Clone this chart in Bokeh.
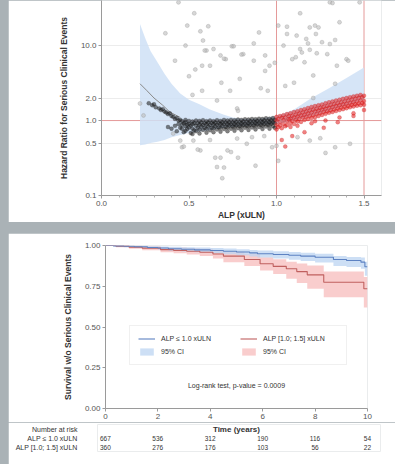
from bokeh.plotting import figure
from bokeh.layouts import column
from bokeh.models import (FixedTicker, PrintfTickFormatter, Span, Legend, LegendItem,
                          Label, FactorRange, Range1d)
from bokeh.core.properties import value
from bokeh.embed import file_html
from bokeh.resources import INLINE

FONT = "Liberation Sans"

# ---------------- Top panel data (hazard ratio vs ALP) ----------------
band_x = [0.22, 0.25, 0.28, 0.32, 0.36, 0.40, 0.45, 0.50, 0.56, 0.62, 0.70, 0.75, 0.80, 0.90,
          1.00, 1.10, 1.20, 1.30, 1.40, 1.50]
band_upper = [19.5, 12.5, 8.5, 6.0, 4.2, 3.1, 2.3, 1.9, 1.65, 1.4, 1.2, 1.1, 1.06, 1.06,
              1.15, 1.4, 2.0, 2.7, 3.7, 5.1]
band_lower = [0.47, 0.48, 0.50, 0.52, 0.55, 0.60, 0.64, 0.68, 0.71, 0.74, 0.80, 0.82, 0.84, 0.87,
              0.90, 1.00, 1.15, 1.35, 1.60, 1.90]
curve_x = [0.22, 0.26, 0.30, 0.35, 0.39, 0.45]
curve_y = [3.1, 2.5, 2.0, 1.6, 1.3, 1.1]

gray_points = [
    (0.44, 37.8), (0.53, 27), (0.365, 14.6), (0.49, 18.5), (0.565, 15.5), (0.61, 18.1), (0.58, 11.7),
    (0.48, 10), (0.60, 8.6), (0.64, 9.0), (0.745, 9.8), (0.755, 9.8), (0.68, 7.4), (0.71, 6.6),
    (0.42, 6.3), (0.575, 5.4), (0.81, 7.7), (0.87, 10.7), (0.90, 15), (0.935, 7.4), (0.87, 6.3),
    (0.96, 5.4), (1.01, 18.5), (1.06, 17.9), (1.135, 27), (1.19, 17.5), (1.22, 18.5), (1.24, 17.5),
    (1.06, 14.3), (1.115, 13.6), (1.17, 12.3), (1.18, 10.7), (1.225, 14.3), (1.26, 11.1),
    (1.305, 10.5), (1.335, 11.9), (1.36, 20.5), (1.04, 10), (1.135, 9.0), (1.145, 8.1), (1.19, 8.8),
    (1.23, 7.9), (1.29, 7.7), (1.09, 6.6), (1.11, 7.0), (1.16, 6.0), (1.40, 6.6), (1.345, 5.4),
    (1.305, 37.8), (1.475, 37.8), (1.32, 37),
    (0.536, 4.8), (0.50, 3.9), (0.52, 2.2), (0.59, 8.6), (0.80, 7.6), (0.70, 6.7), (0.62, 5.4),
    (0.935, 4.6), (0.685, 3.2), (0.735, 2.5), (0.91, 2.7), (0.95, 2.5), (0.79, 3.6), (0.575, 2.5),
    (0.66, 1.85), (0.775, 1.45), (0.78, 1.35), (0.99, 5.9), (1.21, 4.0), (1.05, 2.9), (1.41, 6.3),
    (1.335, 3.1), (1.21, 2.0), (1.10, 3.2),
    (0.565, 0.40), (0.775, 0.575), (0.65, 0.32), (0.70, 0.236), (0.66, 0.24), (0.78, 0.32),
    (0.88, 0.25), (0.83, 0.49), (0.975, 0.44), (1.00, 0.46), (1.01, 0.29), (1.19, 0.54),
    (1.28, 0.37), (1.335, 0.44), (1.42, 0.49), (0.69, 0.17), (0.46, 0.44), (0.22, 1.69),
    (0.24, 1.17), (0.41, 0.67), (0.45, 0.54), (0.47, 0.45), (0.525, 0.54), (0.55, 0.41),
    (0.68, 0.32), (0.72, 0.40), (0.74, 0.38), (0.62, 0.55), (0.86, 0.60), (0.93, 0.62),
    (1.12, 0.60), (1.25, 0.58),
]

black_points = [
    (0.27, 1.70), (0.29, 1.60), (0.30, 1.65), (0.31, 1.50), (0.33, 1.45), (0.34, 1.38), (0.35, 1.42),
    (0.36, 1.32), (0.37, 1.28), (0.38, 1.22), (0.39, 1.25), (0.40, 1.15), (0.41, 1.12), (0.42, 1.05),
    (0.43, 1.08), (0.44, 1.00), (0.45, 1.02), (0.44, 0.90), (0.42, 0.85), (0.40, 0.78), (0.38, 0.82),
    (0.43, 0.72), (0.45, 0.80),
    (0.46, 0.98), (0.46, 0.88), (0.46, 0.78), (0.47, 0.92), (0.47, 0.70),
    (0.48, 1.02), (0.48, 0.95), (0.48, 0.84), (0.48, 0.73), (0.49, 0.88), (0.49, 0.77),
    (0.50, 0.99), (0.50, 0.91), (0.50, 0.81), (0.51, 0.86), (0.51, 0.68),
    (0.52, 0.97), (0.52, 0.89), (0.52, 0.78), (0.52, 0.66), (0.53, 0.93), (0.53, 0.74),
    (0.54, 1.00), (0.54, 0.85), (0.54, 0.72), (0.55, 0.92), (0.55, 0.80),
    (0.56, 0.99), (0.56, 0.88), (0.56, 0.76), (0.56, 0.67), (0.57, 0.94), (0.57, 0.83),
    (0.58, 1.01), (0.58, 0.87), (0.58, 0.75), (0.59, 0.92), (0.59, 0.80),
    (0.60, 0.98), (0.60, 0.89), (0.60, 0.78), (0.60, 0.69), (0.61, 0.94), (0.61, 0.83),
    (0.62, 1.00), (0.62, 0.87), (0.62, 0.74), (0.63, 0.93), (0.63, 0.80),
    (0.64, 0.98), (0.64, 0.89), (0.64, 0.79), (0.64, 0.70), (0.65, 0.94), (0.65, 0.84),
    (0.66, 1.01), (0.66, 0.88), (0.66, 0.76), (0.67, 0.93), (0.67, 0.81),
    (0.68, 0.99), (0.68, 0.90), (0.68, 0.80), (0.68, 0.71), (0.69, 0.95), (0.69, 0.85),
    (0.70, 1.02), (0.70, 0.89), (0.70, 0.77), (0.71, 0.94), (0.71, 0.82),
    (0.72, 1.00), (0.72, 0.90), (0.72, 0.81), (0.72, 0.72), (0.73, 0.95), (0.73, 0.86),
    (0.74, 1.02), (0.74, 0.89), (0.74, 0.78), (0.75, 0.94), (0.75, 0.83),
    (0.76, 1.01), (0.76, 0.91), (0.76, 0.82), (0.76, 0.73), (0.77, 0.96), (0.77, 0.86),
    (0.78, 1.03), (0.78, 0.90), (0.78, 0.79), (0.79, 0.95), (0.79, 0.84),
    (0.80, 1.02), (0.80, 0.92), (0.80, 0.83), (0.80, 0.74), (0.81, 0.97), (0.81, 0.87),
    (0.82, 1.04), (0.82, 0.91), (0.82, 0.80), (0.83, 0.96), (0.83, 0.85),
    (0.84, 1.03), (0.84, 0.93), (0.84, 0.84), (0.84, 0.75), (0.85, 0.98), (0.85, 0.88),
    (0.86, 1.05), (0.86, 0.92), (0.86, 0.81), (0.87, 0.97), (0.87, 0.86),
    (0.88, 1.04), (0.88, 0.94), (0.88, 0.85), (0.88, 0.76), (0.89, 0.99), (0.89, 0.89),
    (0.90, 1.06), (0.90, 0.93), (0.90, 0.82), (0.91, 0.98), (0.91, 0.87),
    (0.92, 1.05), (0.92, 0.95), (0.92, 0.86), (0.92, 0.77), (0.93, 1.00), (0.93, 0.90),
    (0.94, 1.07), (0.94, 0.94), (0.94, 0.83), (0.95, 0.99), (0.95, 0.88),
    (0.96, 1.06), (0.96, 0.96), (0.96, 0.87), (0.96, 0.78), (0.97, 1.01), (0.97, 0.91),
    (0.98, 1.08), (0.98, 0.95), (0.98, 0.84), (0.99, 1.02), (0.99, 0.92), (0.99, 0.80),
]

red_points = [
    (1.00, 1.12), (1.00, 1.00), (1.00, 0.88), (1.00, 0.76), (1.01, 1.05), (1.01, 0.82),
    (1.02, 1.15), (1.02, 0.95), (1.02, 0.86), (1.03, 1.08), (1.03, 0.79),
    (1.04, 1.18), (1.04, 1.02), (1.04, 0.90), (1.05, 1.10), (1.05, 0.84),
    (1.06, 1.22), (1.06, 0.98), (1.06, 0.87), (1.07, 1.14), (1.07, 1.04),
    (1.08, 1.25), (1.08, 1.06), (1.08, 0.93), (1.08, 0.82), (1.09, 1.16), (1.09, 0.99),
    (1.10, 1.30), (1.10, 1.10), (1.10, 0.90), (1.11, 1.20), (1.11, 1.02),
    (1.12, 1.33), (1.12, 1.13), (1.12, 0.97), (1.13, 1.24), (1.13, 1.06),
    (1.14, 1.38), (1.14, 1.17), (1.14, 0.96), (1.15, 1.28), (1.15, 1.09),
    (1.16, 1.42), (1.16, 1.20), (1.16, 1.02), (1.17, 1.32), (1.17, 1.12),
    (1.18, 1.47), (1.18, 1.24), (1.18, 1.05), (1.19, 1.36), (1.19, 1.15),
    (1.20, 1.52), (1.20, 1.28), (1.20, 1.08), (1.21, 1.40), (1.21, 1.18),
    (1.22, 1.56), (1.22, 1.32), (1.22, 1.11), (1.22, 0.98), (1.23, 1.44), (1.23, 1.22),
    (1.24, 1.60), (1.24, 1.36), (1.24, 1.15), (1.25, 1.48), (1.25, 1.26),
    (1.26, 1.64), (1.26, 1.40), (1.26, 1.19), (1.27, 1.52), (1.27, 1.30),
    (1.28, 1.70), (1.28, 1.44), (1.28, 1.23), (1.29, 1.57), (1.29, 1.33),
    (1.30, 1.75), (1.30, 1.48), (1.30, 1.27), (1.31, 1.61), (1.31, 1.37),
    (1.32, 1.80), (1.32, 1.52), (1.32, 1.30), (1.33, 1.66), (1.33, 1.41),
    (1.34, 1.85), (1.34, 1.56), (1.34, 1.34), (1.35, 1.70), (1.35, 1.45),
    (1.36, 1.90), (1.36, 1.60), (1.36, 1.38), (1.37, 1.75), (1.37, 1.49),
    (1.38, 1.95), (1.38, 1.64), (1.38, 1.42), (1.39, 1.80), (1.39, 1.53),
    (1.40, 2.00), (1.40, 1.68), (1.40, 1.46), (1.41, 1.85), (1.41, 1.57),
    (1.42, 2.05), (1.42, 1.72), (1.42, 1.50), (1.43, 1.90), (1.43, 1.61),
    (1.44, 2.10), (1.44, 1.76), (1.44, 1.54), (1.45, 1.95), (1.45, 1.65),
    (1.46, 2.15), (1.46, 1.80), (1.46, 1.58), (1.47, 2.00), (1.47, 1.69),
    (1.48, 2.20), (1.48, 1.85), (1.48, 1.60), (1.49, 2.05), (1.49, 1.72),
    (1.50, 2.15), (1.50, 1.82), (1.50, 1.62),
    (1.03, 0.55), (1.05, 0.45), (1.09, 0.62), (1.16, 0.70), (1.27, 0.80), (1.35, 0.95),
    (1.44, 1.15), (1.12, 0.85), (1.20, 0.92), (1.28, 1.00), (1.36, 1.10), (1.44, 1.25),
    (1.50, 1.38),
]

# ---------------- Bottom panel data (Kaplan-Meier) ----------------
low_t = [0, 0.3, 0.7, 1.1, 1.6, 2.0, 2.4, 2.9, 3.4, 4.0, 4.5, 5.0, 5.5, 5.8, 6.4, 7.0, 7.45,
         8.0, 8.7, 9.2, 9.75, 9.9, 10.0]
low_s = [1.0, 0.998, 0.995, 0.992, 0.988, 0.985, 0.98, 0.977, 0.973, 0.969, 0.965, 0.96, 0.955,
         0.949, 0.945, 0.94, 0.935, 0.928, 0.914, 0.908, 0.898, 0.87, 0.87]
low_up = [1.0, 1.0, 0.999, 0.998, 0.996, 0.994, 0.992, 0.99, 0.987, 0.984, 0.981, 0.977, 0.973,
          0.969, 0.965, 0.96, 0.955, 0.949, 0.935, 0.93, 0.926, 0.9, 0.9]
low_lo = [1.0, 0.994, 0.99, 0.985, 0.98, 0.975, 0.968, 0.963, 0.958, 0.952, 0.946, 0.94, 0.933,
          0.926, 0.92, 0.912, 0.905, 0.895, 0.875, 0.868, 0.857, 0.815, 0.815]

high_t = [0, 0.4, 0.9, 1.4, 2.1, 2.6, 3.1, 3.6, 4.1, 4.5, 5.3, 5.9, 6.4, 6.9, 7.3, 7.7, 8.33,
          9.86, 10.0]
high_s = [1.0, 0.996, 0.99, 0.984, 0.975, 0.97, 0.965, 0.959, 0.948, 0.935, 0.914, 0.888, 0.872,
          0.857, 0.84, 0.82, 0.775, 0.735, 0.735]
high_up = [1.0, 1.0, 0.998, 0.995, 0.99, 0.987, 0.984, 0.98, 0.972, 0.963, 0.95, 0.928, 0.915,
           0.9, 0.89, 0.877, 0.84, 0.806, 0.806]
high_lo = [1.0, 0.99, 0.98, 0.971, 0.959, 0.952, 0.945, 0.935, 0.92, 0.898, 0.875, 0.847, 0.825,
           0.796, 0.77, 0.734, 0.683, 0.62, 0.62]

risk_times = [0, 2, 4, 6, 8, 10]
risk_low = [667, 536, 312, 190, 116, 54]
risk_high = [360, 276, 176, 103, 56, 22]
group_low = "ALP \u2264 1.0 xULN"
group_high = "ALP [1.0; 1.5] xULN"

# ---------------- styling helpers ----------------
def style_axes(p, label_size="8.5px"):
    for ax in (p.xaxis[0], p.yaxis[0]):
        ax.axis_line_color = "#9a9a9a"
        ax.major_tick_line_color = "#9a9a9a"
        ax.minor_tick_line_color = "#b0b0b0"
        ax.major_tick_in = 0
        ax.major_tick_out = 3
        ax.minor_tick_in = 0
        ax.minor_tick_out = 2
        ax.major_label_text_font = FONT
        ax.major_label_text_font_size = "8px"
        ax.major_label_text_color = "#555555"
        ax.axis_label_text_font = FONT
        ax.axis_label_text_font_size = label_size
        ax.axis_label_text_font_style = "bold"
        ax.axis_label_text_color = "#333333"
        ax.major_label_standoff = 2
    p.outline_line_color = None
    p.background_fill_color = "white"
    p.border_fill_color = "white"
    p.frame_align = False

# ---------------- Top figure ----------------
p1 = figure(width=387, height=222, x_range=Range1d(0, 1.6), y_range=Range1d(0.1, 40),
            y_axis_type="log", output_backend="svg", toolbar_location=None,
            min_border_left=93, min_border_right=14, min_border_top=0, min_border_bottom=27)
style_axes(p1)
p1.xaxis.ticker = FixedTicker(ticks=[0, 0.5, 1.0, 1.5],
                              minor_ticks=[0.1, 0.2, 0.3, 0.4, 0.6, 0.7, 0.8, 0.9, 1.1, 1.2, 1.3, 1.4])
p1.xaxis.formatter = PrintfTickFormatter(format="%.1f")
p1.yaxis.ticker = FixedTicker(ticks=[0.1, 0.5, 1, 2, 10], minor_ticks=[])
p1.yaxis.formatter = PrintfTickFormatter(format="%.1f")
p1.xaxis.axis_label = "ALP (xULN)"
p1.yaxis.axis_label = "Hazard Ratio for Serious Clinical Events"
p1.xaxis.axis_label_standoff = 1
p1.yaxis.axis_label_standoff = 9
p1.xgrid.grid_line_color = None
p1.ygrid.grid_line_color = "#ececec"

p1.varea(x=band_x, y1=band_lower, y2=band_upper, fill_color="#cfe1f6", fill_alpha=0.85)
p1.line(curve_x, curve_y, line_color="#8a8a8a", line_width=1)

for loc, dim in ((1.0, "width"), (1.0, "height"), (1.5, "height")):
    p1.add_layout(Span(location=loc, dimension=dim, line_color="#e59a9a", line_width=1,
                       level="underlay"))

p1.scatter([q[0] for q in gray_points], [q[1] for q in gray_points], marker="circle", size=4,
           fill_color="#bdbdbd", fill_alpha=0.6, line_color="#8c8c8c", line_alpha=0.55, line_width=0.5)
p1.scatter([q[0] for q in black_points], [q[1] for q in black_points], marker="circle", size=4,
           fill_color="#1e1e1e", fill_alpha=0.55, line_color="#000000", line_alpha=0.35, line_width=0.5)
p1.scatter([q[0] for q in red_points], [q[1] for q in red_points], marker="circle", size=4,
           fill_color="#e31b1b", fill_alpha=0.55, line_color="#b00000", line_alpha=0.35, line_width=0.5)

# ---------------- KM figure ----------------
p2 = figure(width=387, height=189, x_range=Range1d(0, 10), y_range=Range1d(0, 1.0),
            output_backend="svg", toolbar_location=None,
            min_border_left=97, min_border_right=28, min_border_top=12, min_border_bottom=14)
style_axes(p2)
p2.xaxis.ticker = FixedTicker(ticks=risk_times, minor_ticks=[])
p2.yaxis.ticker = FixedTicker(ticks=[0, 0.25, 0.5, 0.75, 1.0], minor_ticks=[])
p2.yaxis.formatter = PrintfTickFormatter(format="%.2f")
p2.yaxis.axis_label = "Survival w/o Serious Clinical Events"
p2.yaxis.axis_label_standoff = 9
p2.xgrid.grid_line_color = None
p2.ygrid.grid_line_color = None

rb = p2.varea_step(x=high_t, y1=high_lo, y2=high_up, step_mode="after",
                   fill_color="#f7bcbc", fill_alpha=0.75)
bb = p2.varea_step(x=low_t, y1=low_lo, y2=low_up, step_mode="after",
                   fill_color="#bcd4f2", fill_alpha=0.75)
rl = p2.step(high_t, high_s, mode="after", line_color="#c0605f", line_width=1.1)
bl = p2.step(low_t, low_s, mode="after", line_color="#5d82c2", line_width=1.1)

legend = Legend(items=[LegendItem(label=group_low, renderers=[bl]),
                       LegendItem(label="95% CI", renderers=[bb]),
                       LegendItem(label=group_high, renderers=[rl]),
                       LegendItem(label="95% CI", renderers=[rb])],
                location=(24, 43), ncols=2,
                label_text_font=FONT, label_text_font_size="7px", label_text_color="#333333",
                glyph_width=17, glyph_height=9, label_height=9, label_standoff=6,
                label_width=75, padding=8, spacing=4,
                border_line_color="#e2e2e2", background_fill_color="white", background_fill_alpha=1)
p2.add_layout(legend)
p2.add_layout(Label(x=5, y=0.14, text="Log-rank test, p-value = 0.0009", text_align="center",
                    text_baseline="middle", text_font=FONT, text_font_size="7px",
                    text_color="#333333"))

# ---------------- Number at risk table ----------------
p3 = figure(width=387, height=42, x_range=Range1d(-0.3, 10.5),
            y_range=FactorRange(factors=[group_high, group_low, "Number at risk"]),
            output_backend="svg", toolbar_location=None,
            min_border_left=89, min_border_right=15, min_border_top=2, min_border_bottom=13)
p3.frame_align = False
p3.xaxis.visible = False
p3.xgrid.grid_line_color = None
p3.ygrid.grid_line_color = None
p3.outline_line_color = None
p3.yaxis.axis_line_color = None
p3.yaxis.major_tick_line_color = None
p3.yaxis.minor_tick_line_color = None
p3.yaxis.major_label_text_font = FONT
p3.yaxis.major_label_text_font_size = "7px"
p3.yaxis.major_label_text_color = "#333333"
p3.yaxis.major_label_standoff = 14

p3.text(x=risk_times, y=[group_low] * len(risk_times), text=[str(v) for v in risk_low],
        text_font=value(FONT), text_font_size="6.5px", text_align="center",
        text_baseline="middle", text_color="#333333")
p3.text(x=risk_times, y=[group_high] * len(risk_times), text=[str(v) for v in risk_high],
        text_font=value(FONT), text_font_size="6.5px", text_align="center",
        text_baseline="middle", text_color="#333333")
p3.text(x=[5], y=["Number at risk"], text=["Time (years)"], text_font=value(FONT),
        text_font_size="8px", text_font_style="bold", text_align="center",
        text_baseline="middle", text_color="#333333")

p1.margin = (0, 0, 0, 8)
p2.margin = (11, 0, 0, 8)
p3.margin = (0, 0, 0, 8)

page = column(p1, p2, p3, spacing=0, styles={"background-color": "#aab2b6"})

open("out.html", "w").write(file_html(page, INLINE))
